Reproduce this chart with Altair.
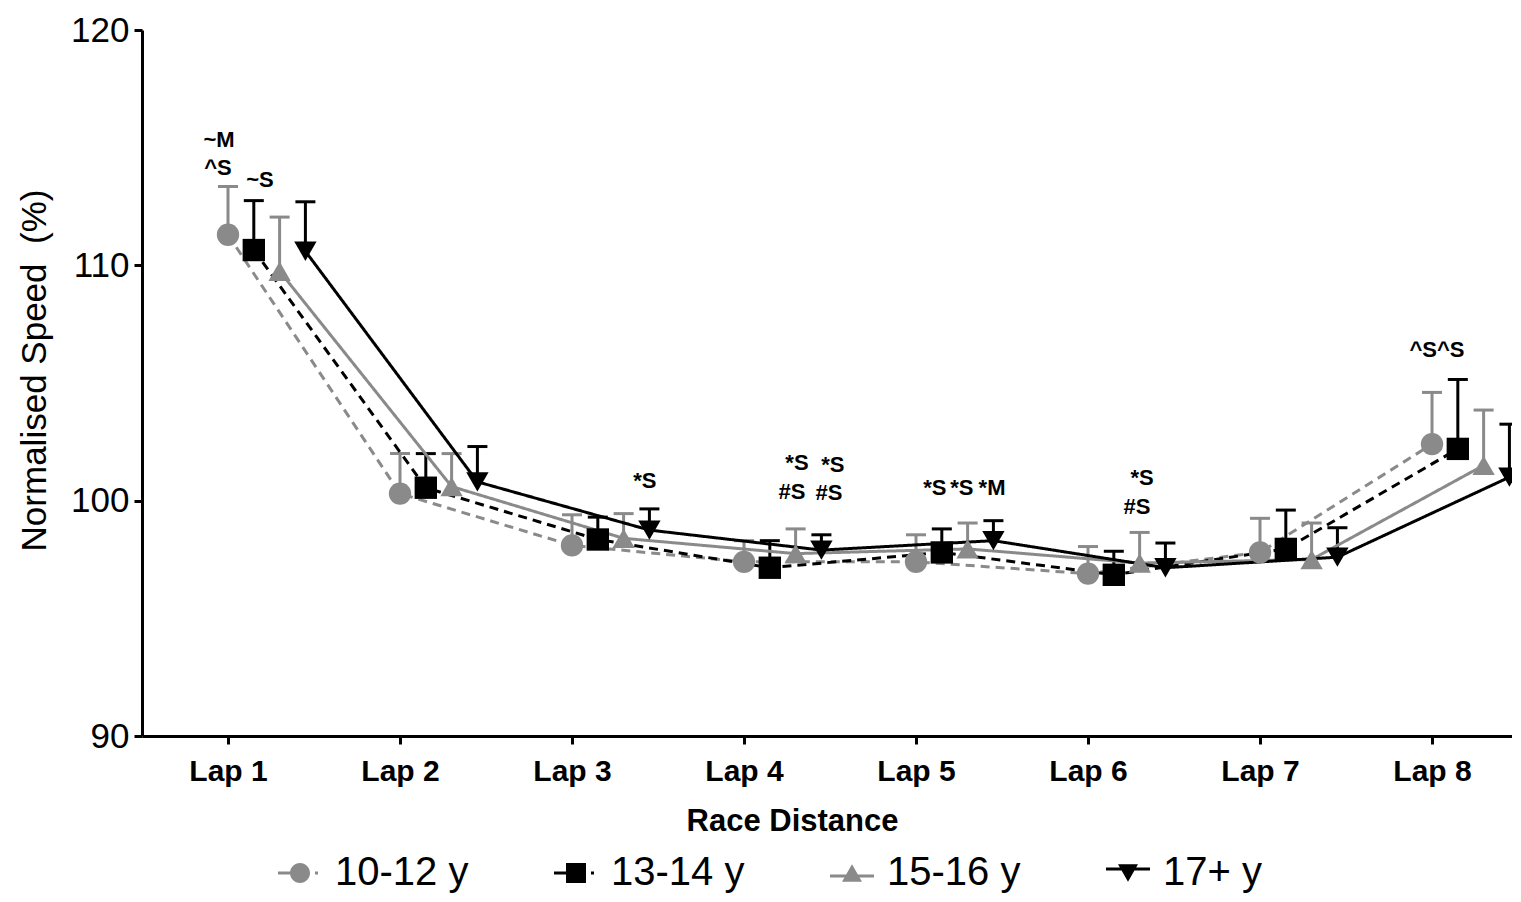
import altair as alt
import pandas as pd

# ---------------- data ----------------
laps = [1, 2, 3, 4, 5, 6, 7, 8]
series = ["10-12 y", "13-14 y", "15-16 y", "17+ y"]

mean_10_12 = [111.3, 100.3, 98.1, 97.4, 97.4, 96.9, 97.8, 102.4]
sd_10_12 = [2.05, 1.7, 1.3, 0.9, 1.15, 1.15, 1.45, 2.2]
mean_13_14 = [110.65, 100.55, 98.35, 97.15, 97.8, 96.85, 97.95, 102.2]
sd_13_14 = [2.1, 1.45, 0.95, 1.15, 1.0, 1.0, 1.65, 2.95]
mean_15_16 = [109.75, 100.6, 98.4, 97.75, 97.95, 97.35, 97.5, 101.5]
sd_15_16 = [2.3, 1.4, 1.05, 1.05, 1.1, 1.3, 1.55, 2.35]
mean_17 = [110.6, 100.8, 98.75, 97.9, 98.3, 97.15, 97.6, 101.0]
sd_17 = [2.1, 1.5, 0.9, 0.65, 0.85, 1.05, 1.25, 2.25]

# significance annotations (text, x in lap units, y in % units)
ann_text = ["~M", "^S", "~S", "*S", "*S", "#S", "*S", "#S",
            "*S", "*S", "*M", "*S", "#S", "^S^S"]
ann_x = [0.948, 0.942, 1.186, 3.424, 4.308, 4.279, 4.517, 4.494,
         5.11, 5.267, 5.442, 6.314, 6.285, 8.029]
ann_y = [115.32, 114.14, 113.63, 100.83, 101.6, 100.37, 101.52, 100.33,
         100.54, 100.54, 100.54, 100.96, 99.73, 106.4]

# ---------------- styles ----------------
GRAY = "#8a8a8a"
BLACK = "#000000"
style_color = {"10-12 y": GRAY, "13-14 y": BLACK, "15-16 y": GRAY, "17+ y": BLACK}
style_shape = {"10-12 y": "circle", "13-14 y": "square",
               "15-16 y": "triangle-up", "17+ y": "triangle-down"}
style_dash = {"10-12 y": [9, 6], "13-14 y": [9, 6], "15-16 y": [1, 0], "17+ y": [1, 0]}
dodge = {"10-12 y": 0.0, "13-14 y": 0.15, "15-16 y": 0.30, "17+ y": 0.45}

legend_paths = [
    "M-2.2,-0.15L-1,-0.15L-1,0.15L-2.2,0.15Z M1.5,-0.15L1.8,-0.15L1.8,0.15L1.5,0.15Z "
    "M-1,0A1,1,0,1,1,1,0A1,1,0,1,1,-1,0Z",
    "M-2.2,-0.15L-1,-0.15L-1,0.15L-2.2,0.15Z M1.5,-0.15L1.8,-0.15L1.8,0.15L1.5,0.15Z "
    "M-1,-1L1,-1L1,1L-1,1Z",
    "M-2.2,0.15L2.2,0.15L2.2,0.45L-2.2,0.45Z M0,-0.87L1,0.87L-1,0.87Z",
    "M-2.2,-0.55L2.2,-0.55L2.2,-0.25L-2.2,-0.25Z M-1,-0.87L1,-0.87L0,0.87Z",
]

means = [mean_10_12, mean_13_14, mean_15_16, mean_17]
sds = [sd_10_12, sd_13_14, sd_15_16, sd_17]

rows = []
for s, m_list, sd_list in zip(series, means, sds):
    for lap, m, sd in zip(laps, m_list, sd_list):
        rows.append({
            "Series": s, "Lap": lap, "xpos": lap + dodge[s],
            "mean": m, "top": m + sd,
            "col": style_color[s], "shp": style_shape[s],
        })
df = pd.DataFrame(rows)
ann_df = pd.DataFrame({"label": ann_text, "x": ann_x, "y": ann_y})
leg_df = pd.DataFrame({"Series": series})

FONT = "Liberation Sans, Arial, Helvetica, sans-serif"

x_enc = alt.X(
    "xpos:Q",
    scale=alt.Scale(domain=[0.5, 8.465], nice=False, zero=False),
    axis=alt.Axis(
        values=laps, labelExpr="'Lap ' + datum.value", title="Race Distance",
        labelFont=FONT, labelFontSize=30, labelFontWeight="bold", labelColor="black",
        titleFont=FONT, titleFontSize=31, titleFontWeight="bold", titleColor="black",
        labelPadding=12, titlePadding=20, tickSize=8, grid=False,
        titleX=650, titleAlign="center",
    ),
)
y_axis = alt.Axis(
    values=[90, 100, 110, 120], title="Normalised Speed\u00a0 (%)",
    labelFont=FONT, labelFontSize=35, labelColor="black",
    titleFont=FONT, titleFontSize=35, titleFontWeight="normal", titleColor="black",
    labelPadding=5, titlePadding=18, tickSize=8, grid=False,
    titleY=340,
)
y_scale = alt.Scale(domain=[90, 120], nice=False, zero=False)

base = alt.Chart(df)

err_rule = base.mark_rule(strokeWidth=3).encode(
    x=x_enc,
    y=alt.Y("mean:Q", scale=y_scale, axis=y_axis),
    y2="top:Q",
    color=alt.Color("col:N", scale=None),
)
err_cap = base.mark_tick(orient="horizontal", size=20, thickness=3, opacity=1).encode(
    x=alt.X("xpos:Q"),
    y=alt.Y("top:Q"),
    color=alt.Color("col:N", scale=None),
)
lines = base.mark_line(strokeWidth=3).encode(
    x=alt.X("xpos:Q"),
    y=alt.Y("mean:Q"),
    detail="Series:N",
    color=alt.Color("col:N", scale=None),
    strokeDash=alt.StrokeDash(
        "Series:N",
        scale=alt.Scale(domain=series, range=[style_dash[s] for s in series]),
        legend=None,
    ),
)
points = base.mark_point(filled=True, size=500, opacity=1).encode(
    x=alt.X("xpos:Q"),
    y=alt.Y("mean:Q"),
    color=alt.Color("col:N", scale=None),
    shape=alt.Shape("shp:N", scale=None),
)
ann = alt.Chart(ann_df).mark_text(
    font=FONT, fontSize=22, fontWeight="bold", color="black", baseline="middle"
).encode(x="x:Q", y="y:Q", text="label:N")

leg = alt.Legend(
    orient="none", legendX=138, legendY=823, direction="horizontal", title=None,
    labelFont=FONT, labelFontSize=40, labelColor="black", labelLimit=400,
    symbolSize=400, labelOffset=15, columnPadding=85, symbolStrokeWidth=0,
    symbolOpacity=1, padding=0,
)
legend_layer = alt.Chart(leg_df).mark_point(filled=True, opacity=1, size=0).encode(
    color=alt.Color("Series:N", scale=alt.Scale(domain=series,
                    range=[style_color[s] for s in series]), legend=leg),
    shape=alt.Shape("Series:N", scale=alt.Scale(domain=series, range=legend_paths),
                    legend=leg),
)

chart = alt.layer(err_rule, err_cap, lines, points, ann, legend_layer).properties(
    width=1370, height=706,
    padding={"left": 134, "top": 22, "right": 0, "bottom": 158},
    autosize="none",
).configure_view(stroke=None).configure_axis(
    domainColor="black", domainWidth=3, tickColor="black", tickWidth=3,
)

chart.save("out.html", embed_options={"renderer": "svg", "actions": False})
